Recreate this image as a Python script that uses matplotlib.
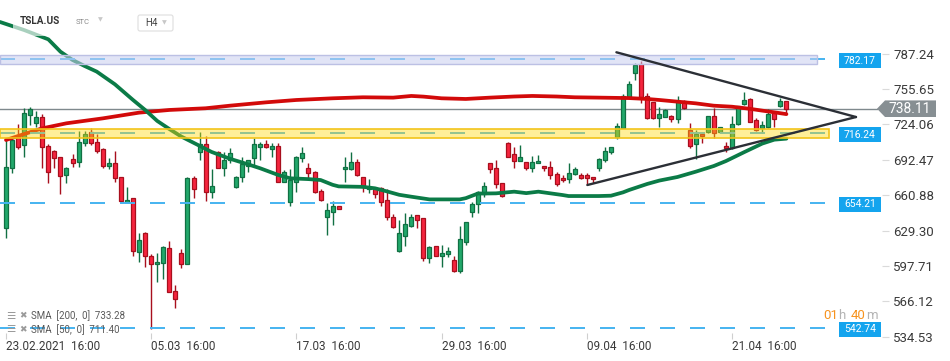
import matplotlib
matplotlib.use('Agg')
import matplotlib.pyplot as plt
import numpy as np
import matplotlib.transforms as mtransforms
from matplotlib.patches import Polygon, Rectangle, FancyBboxPatch

plt.rcParams['font.family'] = ['Roboto', 'DejaVu Sans']
plt.rcParams['lines.scale_dashes'] = False

# ---------------- data ----------------
opens = [631.4, 684.9, 713.2, 705.7, 732.5, 725.1, 731.0, 705.2, 700.7, 694.7,
         679.0, 693.0, 690.3, 707.8, 717.6, 708.7, 701.9, 687.3, 689.4, 676.9,
         655.2, 658.2, 610.6, 626.9, 606.7, 599.3, 600.8, 613.5, 575.8, 609.1,
         599.9, 676.0, 699.8, 706.6, 663.5, 699.8, 684.9, 692.4, 668.6, 677.5,
         687.3, 693.8, 704.2, 706.6, 702.5, 704.9, 673.0, 654.6, 673.0, 693.8,
         684.9, 681.4, 665.0, 641.2, 646.2, 651.0, 684.0, 684.0, 690.3, 676.9,
         666.5, 667.6, 667.6, 656.7, 641.8, 611.5, 624.8, 633.8, 643.0, 640.3,
         604.6, 615.9, 607.0, 608.2, 602.8, 593.3, 619.5, 646.2, 652.8, 661.7,
         689.4, 684.9, 671.5, 707.2, 697.4, 691.8, 690.9, 684.9, 689.4, 687.3,
         686.4, 679.6, 676.0, 675.1, 679.6, 679.0, 679.0, 676.9, 684.9, 692.4,
         699.2, 713.2, 721.2, 748.9, 770.3, 778.0, 749.7, 743.8, 729.5, 731.0,
         731.6, 728.6, 745.3, 719.1, 706.3, 715.3, 717.0, 731.6, 717.0, 704.9,
         703.4, 724.2, 742.0, 746.5, 728.1, 720.6, 722.1, 734.0, 740.8, 745.0]
highs = [711.1, 713.2, 724.5, 738.5, 739.6, 736.4, 733.4, 706.3, 701.3, 695.3,
         686.4, 698.0, 718.2, 718.2, 720.6, 715.3, 702.8, 693.8, 700.4, 677.5,
         668.0, 658.8, 626.9, 627.8, 608.2, 609.1, 615.9, 620.1, 580.8, 612.9,
         677.5, 678.4, 717.0, 714.1, 684.3, 700.4, 699.2, 702.8, 678.1, 694.7,
         692.4, 712.3, 708.7, 710.2, 707.2, 707.2, 683.4, 684.3, 696.0, 703.9,
         689.4, 682.5, 666.5, 653.7, 655.8, 651.0, 694.7, 699.2, 693.0, 677.5,
         675.4, 668.6, 668.6, 666.2, 643.9, 638.8, 644.8, 643.9, 643.0, 640.3,
         615.6, 615.9, 616.5, 615.0, 606.7, 633.5, 636.7, 654.6, 665.0, 673.0,
         689.4, 692.4, 671.5, 708.1, 704.2, 705.7, 690.9, 696.0, 696.8, 687.3,
         691.5, 681.9, 679.0, 690.0, 685.8, 680.5, 681.1, 677.5, 693.8, 704.2,
         703.7, 725.1, 750.9, 762.8, 778.6, 781.0, 751.8, 744.4, 739.3, 737.9,
         732.5, 749.5, 745.9, 725.1, 719.1, 716.7, 731.6, 738.5, 722.1, 708.1,
         731.6, 740.8, 752.7, 748.0, 729.5, 727.2, 737.9, 735.5, 748.0, 745.0]
lows = [622.5, 681.1, 702.2, 695.3, 723.6, 722.1, 685.5, 671.5, 685.5, 661.7,
        671.5, 685.8, 686.4, 704.9, 705.7, 698.3, 685.5, 684.3, 673.0, 655.2,
        654.6, 607.0, 601.1, 597.2, 541.6, 583.2, 585.9, 574.9, 560.0, 596.3,
        599.9, 658.2, 692.4, 656.1, 658.8, 684.9, 678.4, 690.0, 667.1, 672.4,
        681.9, 687.3, 692.4, 703.4, 695.3, 672.4, 672.4, 651.6, 664.1, 690.3,
        674.5, 663.2, 655.8, 625.4, 634.4, 648.9, 673.0, 683.4, 678.1, 664.1,
        663.2, 658.8, 651.6, 638.8, 631.4, 610.6, 615.9, 632.9, 631.4, 602.2,
        600.8, 607.0, 597.2, 605.8, 592.7, 591.8, 616.5, 641.8, 644.8, 659.6,
        681.1, 667.1, 659.6, 695.3, 685.5, 691.8, 683.4, 681.9, 689.4, 682.8,
        675.1, 669.5, 673.0, 672.1, 679.0, 675.1, 670.0, 672.1, 682.5, 690.3,
        697.4, 711.1, 720.6, 747.4, 763.7, 742.9, 728.9, 728.9, 722.1, 731.0,
        726.6, 725.7, 737.9, 703.4, 693.2, 707.8, 716.1, 711.7, 716.1, 699.2,
        702.2, 723.6, 741.4, 725.9, 718.2, 716.1, 720.6, 722.1, 740.0, 734.0]
closes = [685.8, 710.2, 703.7, 734.0, 737.9, 731.0, 703.7, 682.0, 693.9, 678.4,
          684.9, 690.0, 708.7, 715.3, 707.8, 700.7, 687.3, 689.7, 676.0, 655.8,
          656.7, 611.2, 621.0, 606.7, 599.3, 601.1, 615.0, 574.9, 568.0, 599.9,
          676.0, 666.5, 706.6, 663.5, 669.2, 684.9, 692.4, 698.3, 677.5, 688.5,
          692.4, 706.3, 706.6, 704.2, 704.9, 673.0, 681.4, 674.5, 694.7, 698.3,
          680.5, 664.1, 656.4, 647.8, 651.0, 649.0, 686.1, 690.3, 679.0, 668.6,
          668.0, 661.7, 654.6, 641.2, 632.3, 626.9, 635.0, 641.8, 639.1, 604.6,
          614.4, 607.0, 609.1, 610.9, 593.3, 621.6, 636.7, 652.8, 663.5, 668.9,
          684.0, 670.6, 660.2, 695.3, 691.5, 694.7, 684.9, 690.3, 691.5, 685.5,
          679.0, 670.6, 674.2, 680.5, 684.0, 676.6, 676.0, 675.1, 693.0, 700.4,
          703.7, 722.7, 749.7, 759.9, 777.1, 748.9, 730.1, 729.5, 733.1, 736.7,
          728.6, 743.8, 739.1, 705.2, 715.3, 713.8, 731.6, 716.7, 721.5, 702.8,
          724.5, 740.8, 746.0, 726.6, 719.1, 723.6, 733.4, 728.6, 745.0, 738.11]

sma200_idx = [0, 3, 6, 10, 16, 22, 27, 33, 37, 43, 48, 54, 59, 64, 67, 69, 72, 76,
              80, 84, 87, 91, 94, 98, 103, 106, 108, 111, 114, 117, 120, 123, 125,
              127, 129]
sma200_val = [710.2, 715.5, 720.6, 725.1, 729.5, 734.6, 737.0, 738.5, 740.8, 743.8,
              745.9, 747.4, 748.3, 748.0, 749.5, 748.9, 747.4, 746.8, 748.0, 749.0,
              749.5, 749.0, 748.3, 748.0, 747.6, 746.8, 745.9, 744.4, 742.9, 740.8,
              739.9, 738.0, 736.4, 734.9, 733.28]

sma50_idx = [-1, 0, 3, 7, 9, 11, 13, 15, 18, 21, 23, 25, 27, 29, 32, 34, 37, 40,
             42, 45, 47, 50, 52, 54, 55, 59, 61, 63, 65, 67, 70, 75, 76, 78, 81,
             84, 86, 88, 92, 93, 98, 100, 102, 103, 106, 108, 111, 114, 117, 119,
             122, 125, 127, 129]
sma50_val = [815.5, 813.7, 808.3, 800.0, 789.0, 781.6, 776.2, 771.2, 759.9, 745.9,
             737.0, 727.2, 720.0, 713.2, 705.0, 699.5, 693.5, 688.5, 685.0, 679.0,
             676.0, 675.3, 674.5, 670.2, 668.8, 668.4, 667.1, 664.3, 661.3, 659.6,
             657.2, 657.2, 658.3, 662.4, 662.6, 664.1, 662.8, 664.1, 661.1, 660.2,
             660.2, 660.5, 663.5, 665.6, 671.0, 674.0, 677.2, 681.9, 687.0, 691.4,
             699.3, 707.0, 710.5, 711.40]

last_price = 738.11
levels = [782.17, 716.24, 654.21, 542.74]
resist_zone = [778.0, 786.0]
support_zone = [712.3, 719.7]
tri_upper_x = [100.9, 140.5]
tri_upper_y = [788.45, 730.7]
tri_lower_x = [96.1, 140.5]
tri_lower_y = [670.05, 730.7]

ytick_vals = [534.53, 566.12, 597.71, 629.30, 660.88, 692.47, 724.06, 755.65, 787.24]
xtick_pos = [0, 24, 48, 72, 96, 120]
xtick_labels = ['23.02.2021  16:00', '05.03  16:00', '17.03  16:00',
                '29.03  16:00', '09.04  16:00', '21.04  16:00']

# ---------------- figure ----------------
W, H = 950, 361
fig = plt.figure(figsize=(9.5, 3.61), dpi=100)
fig.patch.set_facecolor('white')
ax_right_px = 882
ax_bottom_px = 339
ax = fig.add_axes([0, 1 - ax_bottom_px / H, ax_right_px / W, ax_bottom_px / H])
ax.set_facecolor('white')
ax.set_xlim(-0.99, 144.8)
ax.set_ylim(532.65, 835.1)
for s in ax.spines.values():
    s.set_visible(False)

blend = mtransforms.blended_transform_factory(ax.transAxes, ax.transData)

GREEN, GREEN_E = '#22a86b', '#117043'
RED, RED_E = '#f5243e', '#a80f1d'

o = np.array(opens); h = np.array(highs); l = np.array(lows); c = np.array(closes)
idx = np.arange(len(o))
up = c >= o
face = np.where(up, GREEN, RED)
edge = np.where(up, GREEN_E, RED_E)

# current price line
ax.axhline(last_price, xmin=0, xmax=877 / ax_right_px, color='#7f898d', lw=1, zorder=1.5)

ax.vlines(idx, l, h, colors=edge, lw=1, zorder=2)
bb = np.minimum(o, c)
bh = np.maximum(np.abs(c - o), 0.9)
ax.bar(idx, bh, bottom=bb, width=0.66, color=face, edgecolor=edge, linewidth=0.9, zorder=3)

# moving averages
ax.plot(sma200_idx, sma200_val, color='#d20a0a', lw=2.7, zorder=4, solid_capstyle='round', solid_joinstyle='round')
ax.plot(sma50_idx, sma50_val, color='#0b7b47', lw=2.7, zorder=4, solid_capstyle='round', solid_joinstyle='round')

# horizontal dashed levels
x_end_lvl = (838 - 6) / 6.05
for lev in levels:
    ax.plot([-0.99, x_end_lvl], [lev, lev], color='#45b3f0', lw=1.4,
            dashes=(10.8, 10.8), zorder=5)

# zones
ax.axhspan(resist_zone[0], resist_zone[1], xmin=0, xmax=817 / ax_right_px,
           facecolor=(0.79, 0.81, 0.94, 0.55), edgecolor='#bcc0e4', lw=1, zorder=6)
ax.axhspan(support_zone[0], support_zone[1], xmin=0, xmax=829 / ax_right_px,
           facecolor=(1.0, 0.85, 0.05, 0.42), edgecolor='#f2c41a', lw=1.2, zorder=6)

# triangle
ax.plot(tri_upper_x, tri_upper_y, color='#2b2f36', lw=1.7, zorder=7, solid_capstyle='round')
ax.plot(tri_lower_x, tri_lower_y, color='#2b2f36', lw=1.7, zorder=7, solid_capstyle='round')

# price tags for levels
for lev in levels:
    yc = lev - 1.2
    ax.add_patch(Rectangle((839 / ax_right_px, yc - 6.7), 42 / ax_right_px, 13.4,
                           transform=blend, facecolor='#14a4ee', edgecolor='none',
                           zorder=8, clip_on=False))
    ax.text(860 / ax_right_px, yc, f'{lev:.2f}', transform=blend, ha='center', va='center',
            color='white', fontsize=7.5, zorder=9, clip_on=False)

# current price tag
poly = Polygon([(877 / ax_right_px, last_price), (885 / ax_right_px, last_price + 7.4),
                (936 / ax_right_px, last_price + 7.4), (936 / ax_right_px, last_price - 7.4),
                (885 / ax_right_px, last_price - 7.4)], closed=True,
               transform=blend, facecolor='#878f93', edgecolor='none', zorder=8, clip_on=False)
ax.add_patch(poly)
ax.text(910 / ax_right_px, last_price - 0.3, f'{last_price:.2f}', transform=blend, ha='center',
        va='center', color='white', fontsize=10, zorder=9, clip_on=False)

# axes ticks
ax.yaxis.tick_right()
ax.set_yticks(ytick_vals)
ax.set_yticklabels([f'{v:.2f}' for v in ytick_vals])
ax.tick_params(axis='y', length=5, color='#dadada', pad=3, labelsize=9.5, labelcolor='#3a3a3a')
ax.set_xticks(xtick_pos)
ax.set_xticklabels(xtick_labels)
ax.tick_params(axis='x', direction='in', length=4, color='#cfcfcf', pad=1,
               labelsize=8.5, labelcolor='#3a3a3a')
for t in ax.get_xticklabels():
    t.set_ha('left')

# ---------------- overlay (UI text) ----------------
ov = fig.add_axes([0, 0, 1, 1])
ov.set_xlim(0, W)
ov.set_ylim(H, 0)
ov.axis('off')
ov.patch.set_alpha(0)
ov.set_zorder(10)

ov.add_patch(Rectangle((13, 8), 170, 28, facecolor='white', alpha=0.65, edgecolor='none'))
ov.text(20, 20.5, 'TSLA.US', fontsize=7.2, fontweight='bold', color='#333333', va='center')
ov.text(76, 21.5, 'STC', fontsize=5.5, color='#8a8a8a', va='center')
ov.text(98, 19.5, '▼', fontsize=4.5, color='#c8c8c8', family='DejaVu Sans', va='center')
ov.add_patch(FancyBboxPatch((138, 15), 35, 16, boxstyle='round,pad=0,rounding_size=2',
                            facecolor='white', edgecolor='#dedede', lw=0.8))
ov.text(145, 23, 'H4', fontsize=7, color='#444444', va='center')
ov.text(162, 22.5, '▼', fontsize=4.5, color='#c8c8c8', family='DejaVu Sans', va='center')

for yy, name, val in [(316, 'SMA  [200,  0]', sma200_val[-1]), (329.5, 'SMA  [50,  0]', sma50_val[-1])]:
    ov.text(6, yy, '☰', family='DejaVu Sans', fontsize=7.5, color='#9a9a9a', va='center', fontweight='bold')
    ov.text(19.5, yy, '✖', family='DejaVu Sans', fontsize=6.5, color='#9a9a9a', va='center')
    ov.text(31, yy, f'{name}  {val:.2f}', fontsize=7, color='#5a5a5a', va='center')

ov.text(823, 315.5, '01', color='#f7931e', fontsize=9.5, va='center')
ov.text(838.5, 315.5, 'h', color='#b3b3b3', fontsize=9.5, va='center')
ov.text(851, 315.5, '40', color='#f7931e', fontsize=9.5, va='center')
ov.text(866.5, 315.5, 'm', color='#b3b3b3', fontsize=9.5, va='center')

fig.savefig('out.png', dpi=100, facecolor='white')
